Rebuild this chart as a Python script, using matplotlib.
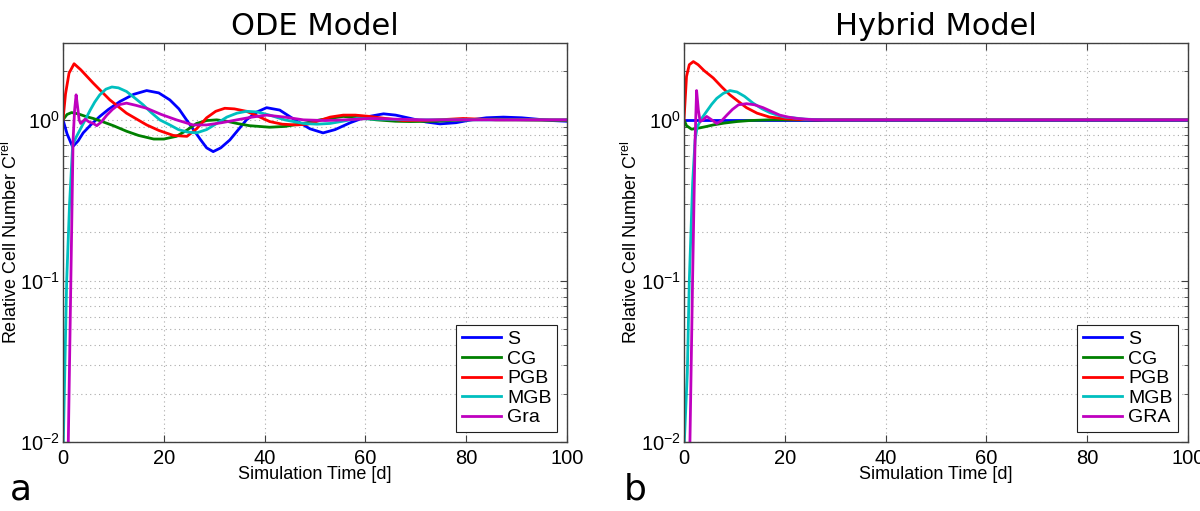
import matplotlib
matplotlib.use("Agg")
import matplotlib.pyplot as plt
from matplotlib.ticker import LogLocator, FixedLocator, NullFormatter

# ---------------- data ----------------
labels_ode = ["S", "CG", "PGB", "MGB", "Gra"]
labels_hyb = ["S", "CG", "PGB", "MGB", "GRA"]
colors = ["#0000ff", "#008000", "#ff0000", "#00bfbf", "#bf00bf"]

# ODE model
ode_t_S = [0, 0.8, 1.9, 3, 4, 5.5, 7.3, 9, 11.3, 14, 16.6, 19, 21.2, 23, 24.5, 26, 27.2, 28.5, 29.8,
           31.3, 33.1, 34.8, 36.4, 38.5, 40.4, 43, 46, 49, 51.6, 54, 57, 60, 63.6, 66, 69, 72, 74.8,
           78, 81, 84, 87.4, 91, 94, 97, 100]
ode_S = [1.0, 0.82, 0.68, 0.74, 0.83, 0.93, 1.05, 1.16, 1.3, 1.44, 1.52, 1.47, 1.33, 1.17, 1.0, 0.86,
         0.76, 0.67, 0.635, 0.67, 0.75, 0.87, 1.0, 1.12, 1.19, 1.15, 1.0, 0.88, 0.83, 0.87, 0.96, 1.04,
         1.09, 1.07, 1.02, 0.97, 0.944, 0.96, 1.0, 1.03, 1.04, 1.03, 1.01, 0.99, 0.98]

ode_t_CG = [0, 0.8, 1.7, 3, 4.5, 6, 8, 10, 12.6, 15, 18, 20, 22.5, 24.5, 26.5, 28.5, 30.5, 32.5, 34.5,
            37, 41, 44, 47.7, 51, 55.6, 59, 62.2, 66, 69, 74, 80, 86, 92, 100]
ode_CG = [1.0, 1.08, 1.11, 1.09, 1.05, 1.02, 0.97, 0.92, 0.85, 0.8, 0.76, 0.76, 0.79, 0.86, 0.95, 0.99,
          1.0, 0.98, 0.95, 0.92, 0.9, 0.91, 0.95, 1.0, 1.05, 1.03, 1.0, 0.98, 0.976, 0.98, 1.0, 1.01,
          1.0, 0.99]

ode_t_PGB = [0, 0.5, 1.2, 2.2, 3.5, 6, 9.3, 12.6, 16.6, 19, 21.9, 24.6, 26.5, 28.5, 30.3, 32.1, 34,
             36.4, 38.5, 41, 43.5, 46.4, 48.5, 50.3, 53, 55.6, 58, 60.9, 64, 67.5, 72, 79.4, 86, 93, 100]
ode_PGB = [1.0, 1.45, 1.95, 2.23, 2.05, 1.69, 1.33, 1.1, 0.93, 0.86, 0.8, 0.79, 0.88, 1.03, 1.13, 1.18,
           1.17, 1.13, 1.06, 0.976, 0.94, 0.93, 0.94, 0.976, 1.04, 1.07, 1.07, 1.05, 1.02, 0.99, 0.99,
           1.02, 1.0, 1.0, 1.0]

ode_t_MGB = [0, 0.73, 1.3, 1.92, 2.6, 3.4, 4.4, 5.4, 6.3, 7.3, 8.5, 9.7, 11, 12.6, 14.2, 15.9, 17.5,
             19.2, 21.2, 22.9, 24.7, 26.5, 28.5, 30.5, 32.5, 34.5, 36.4, 38.5, 41, 44, 47.7, 50.4, 53,
             55.5, 58.3, 62, 70, 80, 90, 100]
ode_MGB = [0.008, 0.1, 0.3, 0.7, 0.78, 0.87, 1.0, 1.15, 1.29, 1.43, 1.55, 1.6, 1.58, 1.5, 1.37, 1.24,
           1.11, 1.0, 0.93, 0.87, 0.84, 0.83, 0.87, 0.95, 1.04, 1.1, 1.13, 1.12, 1.07, 1.0, 0.95, 0.94,
           0.95, 0.98, 1.02, 1.01, 1.0, 1.0, 1.0, 1.0]

ode_t_Gra = [0, 1.05, 2.0, 2.3, 2.6, 2.9, 3.2, 3.5, 4.4, 5.2, 6.0, 6.7, 7.6, 8.7, 9.8, 11, 12.6, 14.5,
             16.6, 19.5, 22.5, 25.8, 28.5, 31.5, 34.5, 37.5, 40.4, 44, 47.7, 52, 56, 60.9, 66, 72, 80,
             90, 100]
ode_Gra = [1e-4, 0.01, 0.75, 1.15, 1.43, 1.2, 1.0, 0.95, 1.01, 0.97, 0.95, 0.92, 0.97, 1.07, 1.16, 1.24,
           1.27, 1.23, 1.18, 1.08, 1.0, 0.93, 0.93, 0.96, 1.0, 1.04, 1.07, 1.04, 1.0, 0.99, 1.0, 1.02,
           1.01, 1.0, 1.0, 1.0, 1.0]

# Hybrid model
hyb_t_S = [0, 20, 40, 60, 80, 100]
hyb_S = [1.0, 1.0, 1.0, 1.0, 1.0, 1.0]

hyb_t_CG = [0, 0.5, 1.5, 3, 4.5, 5.8, 8, 10.5, 13, 17, 22, 30, 50, 100]
hyb_CG = [1.0, 0.92, 0.875, 0.89, 0.91, 0.93, 0.955, 0.976, 0.99, 1.0, 1.0, 1.0, 1.0, 1.0]

hyb_t_PGB = [0, 0.5, 1.05, 1.85, 2.8, 4, 5.8, 7.5, 9.1, 10.8, 12.4, 14.5, 17, 20, 23, 26, 30, 50, 100]
hyb_PGB = [1.0, 1.86, 2.2, 2.3, 2.2, 2.02, 1.82, 1.6, 1.43, 1.3, 1.19, 1.1, 1.04, 1.015, 1.005, 1.0,
           1.0, 1.0, 1.0]

hyb_t_MGB = [0, 0.66, 1.05, 1.72, 2.2, 2.6, 3.5, 4.5, 5.5, 6.5, 7.8, 9.1, 10.5, 12, 13.7, 15.5, 17,
             18.5, 20, 21.6, 24, 28, 35, 50, 100]
hyb_MGB = [0.009, 0.027, 0.1, 0.41, 0.75, 0.9, 1.02, 1.13, 1.25, 1.36, 1.46, 1.52, 1.49, 1.4, 1.27,
           1.17, 1.11, 1.07, 1.04, 1.03, 1.01, 1.0, 1.0, 1.0, 1.0]

hyb_t_GRA = [0, 1.2, 1.7, 2.2, 2.5, 2.85, 3.2, 3.8, 4.5, 5.5, 6.5, 7.5, 8.5, 9.6, 10.8, 12.4, 14, 15.7,
             17.3, 19, 20.7, 22.4, 25, 28, 35, 50, 100]
hyb_GRA = [1e-4, 0.011, 0.1, 0.75, 1.52, 1.15, 0.976, 1.0, 1.05, 1.0, 0.95, 0.99, 1.07, 1.16, 1.24,
           1.26, 1.24, 1.19, 1.13, 1.07, 1.04, 1.02, 1.005, 1.0, 1.0, 1.0, 1.0]

xticks = [0, 20, 40, 60, 80, 100]
titles = ["ODE Model", "Hybrid Model"]
panel_letters = ["a", "b"]

ode_series = [(ode_t_S, ode_S), (ode_t_CG, ode_CG), (ode_t_PGB, ode_PGB),
              (ode_t_MGB, ode_MGB), (ode_t_Gra, ode_Gra)]
hyb_series = [(hyb_t_S, hyb_S), (hyb_t_CG, hyb_CG), (hyb_t_PGB, hyb_PGB),
              (hyb_t_MGB, hyb_MGB), (hyb_t_GRA, hyb_GRA)]

# ---------------- figure ----------------
plt.rcParams['font.family'] = ['Liberation Sans', 'DejaVu Sans']
plt.rcParams['mathtext.fontset'] = 'custom'
plt.rcParams['mathtext.rm'] = 'Liberation Sans'
plt.rcParams['mathtext.it'] = 'Liberation Sans'

fig = plt.figure(figsize=(12, 5.11), dpi=100)
axes_pos = [[63 / 1200, 1 - 442 / 511, 504 / 1200, 399 / 511],
            [684 / 1200, 1 - 442 / 511, 504 / 1200, 399 / 511]]
ylabel_x = [21, 641]
letter_x = [10, 624]

for i, (series, labels) in enumerate([(ode_series, labels_ode), (hyb_series, labels_hyb)]):
    ax = fig.add_axes(axes_pos[i])
    ax.set_yscale('log')
    for (t, v), lab, c in zip(series, labels, colors):
        ax.plot(t, v, color=c, lw=2.0, label=lab)
    ax.set_xlim(0, 100)
    ax.set_ylim(0.01, 3.0)
    ax.set_xticks(xticks)
    ax.yaxis.set_major_locator(FixedLocator([0.01, 0.1, 1.0]))
    ax.yaxis.set_minor_locator(LogLocator(base=10, subs=range(2, 10), numticks=20))
    ax.yaxis.set_minor_formatter(NullFormatter())
    ax.tick_params(axis='both', which='both', direction='in', top=True, right=True,
                   labelsize=14.5, color='#404040')
    ax.tick_params(axis='x', which='major', length=5, pad=5)
    ax.tick_params(axis='y', which='major', length=5, pad=2)
    ax.tick_params(axis='y', which='minor', length=3)
    ax.grid(True, which='major', axis='both', color='#aaaaaa', ls=(0, (1, 3)), lw=0.8)
    ax.grid(True, which='minor', axis='y', color='#aaaaaa', ls=(0, (1, 3)), lw=0.8)
    for sp in ax.spines.values():
        sp.set_color('#404040')
        sp.set_linewidth(1.0)
    ax.set_title(titles[i], fontsize=22, family=['DejaVu Sans'], pad=6)
    ax.set_xlabel("Simulation Time [d]", fontsize=13)
    ax.xaxis.set_label_coords(0.5, (442 - 466) / 399)
    ax.xaxis.label.set_va('top')
    ax.set_ylabel(r"Relative Cell Number C$^{\mathrm{rel}}$", fontsize=13)
    ax.yaxis.set_label_coords((ylabel_x[i] - axes_pos[i][0] * 1200) / 504, 0.5)
    leg = ax.legend(loc='lower right', fontsize=14, fancybox=False, framealpha=1,
                    edgecolor='#202020', borderaxespad=0.5, handlelength=2.0,
                    handletextpad=0.3, labelspacing=0.1, borderpad=0.3)
    leg.get_frame().set_linewidth(0.8)
    fig.text(letter_x[i] / 1200, 1 - 490 / 511, panel_letters[i], fontsize=26,
             family=['DejaVu Sans'], va='center', ha='left')

fig.savefig("out.png", dpi=100)
